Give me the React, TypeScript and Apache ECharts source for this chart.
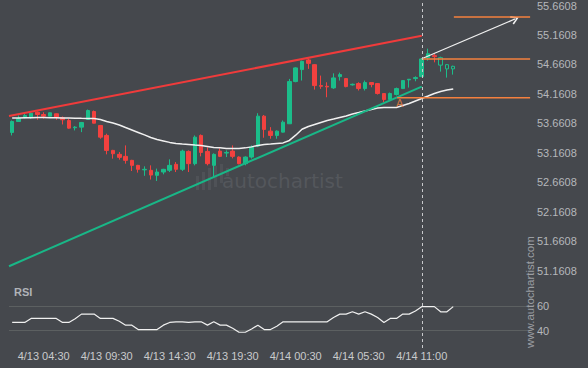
import React, { useEffect, useRef } from 'react';
import * as echarts from 'echarts';

const BG = '#45484d';
const UP = '#1bbd8a';
const DOWN = '#f2413f';
const ORANGE = '#f5803e';
const WHITE = '#f0f0f0';

// candles: [open, close, low, high]
const candles: number[][] = [
  [53.507, 53.693, 53.456, 53.710],
  [53.693, 53.744, 53.685, 53.795],
  [53.756, 53.795, 53.744, 53.820],
  [53.766, 53.833, 53.739, 53.850],
  [53.850, 53.811, 53.722, 53.862],
  [53.811, 53.783, 53.739, 53.850],
  [53.783, 53.840, 53.778, 53.845],
  [53.823, 53.766, 53.722, 53.828],
  [53.756, 53.722, 53.642, 53.778],
  [53.710, 53.580, 53.569, 53.739],
  [53.586, 53.597, 53.541, 53.614],
  [53.597, 53.676, 53.512, 53.685],
  [53.727, 53.879, 53.718, 53.896],
  [53.862, 53.664, 53.659, 53.879],
  [53.625, 53.427, 53.400, 53.634],
  [53.456, 53.202, 53.135, 53.485],
  [53.202, 53.146, 53.062, 53.211],
  [53.135, 53.084, 53.045, 53.174],
  [53.101, 53.033, 52.977, 53.287],
  [53.033, 52.948, 52.852, 53.042],
  [52.948, 52.881, 52.825, 52.957],
  [52.872, 52.881, 52.771, 52.932],
  [52.864, 52.784, 52.707, 52.948],
  [52.779, 52.835, 52.683, 52.893],
  [52.835, 52.881, 52.796, 52.889],
  [52.864, 52.948, 52.835, 53.050],
  [52.965, 52.881, 52.835, 53.004],
  [52.881, 53.190, 52.852, 53.214],
  [53.185, 52.977, 52.835, 53.202],
  [52.977, 53.427, 52.948, 53.456],
  [53.456, 53.168, 53.101, 53.473],
  [53.185, 52.977, 52.948, 53.253],
  [52.948, 53.135, 52.745, 53.152],
  [53.190, 53.101, 53.089, 53.236],
  [53.157, 53.168, 53.089, 53.202],
  [53.190, 53.101, 53.067, 53.287],
  [53.089, 52.977, 52.965, 53.101],
  [52.977, 53.089, 52.948, 53.101],
  [53.089, 53.258, 53.062, 53.287],
  [53.275, 53.783, 53.258, 53.833],
  [53.783, 53.558, 53.417, 53.803],
  [53.529, 53.456, 53.400, 53.597],
  [53.456, 53.529, 53.400, 53.541],
  [53.512, 53.681, 53.507, 53.710],
  [53.654, 54.370, 53.654, 54.415],
  [54.370, 54.602, 54.358, 54.612],
  [54.573, 54.713, 54.387, 54.725],
  [54.737, 54.679, 54.585, 54.759],
  [54.657, 54.302, 54.234, 54.666],
  [54.302, 54.290, 54.246, 54.471],
  [54.290, 54.280, 54.104, 54.358],
  [54.263, 54.432, 54.246, 54.510],
  [54.454, 54.488, 54.387, 54.522],
  [54.421, 54.285, 54.273, 54.429],
  [54.314, 54.324, 54.302, 54.336],
  [54.336, 54.251, 54.218, 54.358],
  [54.251, 54.353, 54.218, 54.387],
  [54.353, 54.319, 54.273, 54.361],
  [54.336, 54.167, 54.150, 54.344],
  [54.167, 54.065, 54.020, 54.175],
  [54.065, 54.167, 54.048, 54.184],
  [54.150, 54.251, 54.133, 54.268],
  [54.251, 54.387, 54.243, 54.395],
  [54.399, 54.409, 54.268, 54.412],
  [54.421, 54.437, 54.375, 54.459],
  [54.454, 54.754, 54.446, 54.759],
  [54.776, 54.843, 54.725, 54.928],
  [54.810, 54.793, 54.696, 54.843],
  [54.776, 54.649, 54.539, 54.793],
  [54.657, 54.585, 54.437, 54.666],
  [54.585, 54.629, 54.488, 54.640],
];
const hollowCandles = [68, 69, 70];

const movingAverage: number[] = [
  53.750, 53.752, 53.755, 53.758, 53.760, 53.760, 53.758, 53.755, 53.752, 53.750,
  53.748, 53.746, 53.745, 53.744, 53.727, 53.693, 53.668, 53.634, 53.591, 53.549,
  53.507, 53.465, 53.422, 53.388, 53.363, 53.338, 53.321, 53.312, 53.304, 53.295,
  53.287, 53.270, 53.253, 53.245, 53.236, 53.236, 53.236, 53.245, 53.262, 53.287,
  53.304, 53.312, 53.321, 53.329, 53.371, 53.460, 53.560, 53.608, 53.642, 53.676,
  53.710, 53.735, 53.761, 53.786, 53.820, 53.845, 53.871, 53.896, 53.921, 53.930,
  53.930, 53.930, 53.964, 53.998, 54.040, 54.082, 54.124, 54.167, 54.201, 54.226,
  54.243,
];

const rsiValues: number[] = [
  46.6, 46.6, 46.6, 49.9, 49.9, 49.9, 49.9, 49.9, 46.6, 46.6,
  49.6, 53.4, 53.4, 53.4, 49.9, 49.9, 49.9, 47.6, 44.4, 44.4,
  40.8, 40.8, 40.8, 40.8, 44.4, 46.6, 47.1, 47.1, 46.6, 47.1,
  47.1, 44.4, 47.1, 44.4, 44.4, 41.9, 38.6, 38.6, 41.2, 44.4,
  40.8, 40.8, 43.5, 47.1, 47.1, 47.1, 47.1, 47.1, 47.1, 47.1,
  47.1, 50.7, 53.4, 53.4, 55.3, 53.4, 55.3, 53.4, 50.6, 46.6,
  49.9, 49.9, 53.4, 53.4, 56.0, 59.5, 59.5, 59.5, 55.3, 55.3,
  59.5,
];

const SLOT_COUNT = 83;
const tickIndex = [5, 15, 25, 35, 45, 55, 65];
const tickLabels = ['4/13 04:30', '4/13 09:30', '4/13 14:30', '4/13 19:30', '4/14 00:30', '4/14 05:30', '4/14 11:00'];
const NOW_INDEX = 65;

const Y_MIN = 51.1608;
const Y_MAX = 55.6608;
const Y_STEP = 0.5;
const RSI_MIN = 30;
const RSI_MAX = 80;
const rsiLevels = [40, 60];

const resistance = [[-0.5, 53.784], [65, 55.148]];
const support = [[-0.5, 51.237], [65, 54.285]];
const targetArrow = [[65, 54.758], [79.8, 55.431]];
const levelTop = [[70.1, 55.4645], [82.2, 55.4645]];
const levelMid = [[65, 54.754], [82.2, 54.754]];
const levelLow = [[61.1, 54.094], [82.2, 54.094]];
const levelLowMarker = [[61.5, 54.094]];

const FONT = 'Liberation Sans, Arial, sans-serif';

export default function App() {
  const ref = useRef<HTMLDivElement>(null);
  useEffect(() => {
    if (!ref.current) return;
    const chart = echarts.init(ref.current, undefined, { renderer: 'svg' });
    const slots = Array.from({ length: SLOT_COUNT }, (_, i) => String(i));
    const candleData = candles.map((c, i) => {
      if (hollowCandles.includes(i)) {
        return {
          value: c,
          itemStyle: { color: BG, color0: BG, borderColor: UP, borderColor0: DOWN, borderWidth: 1 },
        };
      }
      return c;
    });

    const lineSeries = (data: number[][], color: string, width: number) => ({
      type: 'line',
      xAxisIndex: 2,
      yAxisIndex: 0,
      data,
      showSymbol: false,
      symbol: 'none',
      lineStyle: { color, width },
      z: 5,
      silent: true,
    });

    const bars = [
      [196, 176, 190], [202, 172, 190], [208, 168, 190], [214, 166, 187], [220, 164, 183], [226, 168, 176],
    ];

    const baseGraphic: any[] = [
      {
        type: 'text', left: 14, top: 286, z: 10,
        style: { text: 'RSI', fill: '#b0b3b8', font: `bold 11px ${FONT}` },
      },
      {
        type: 'text', x: 222, y: 171, z: -1,
        style: { text: 'autochartist', fill: '#54575c', font: `20px 'DejaVu Sans', sans-serif` },
      },
      ...bars.map((b) => ({
        type: 'rect', z: -1,
        shape: { x: b[0], y: b[1], width: 3, height: b[2] - b[1] },
        style: { fill: '#4f5257' },
      })),
      {
        type: 'text', x: 524, y: 348, rotation: Math.PI / 2, z: 10,
        style: { text: 'www.autochartist.com', fill: '#9a9da2', font: `11.5px ${FONT}` },
      },
    ];

    chart.setOption({
      animation: false,
      backgroundColor: BG,
      grid: [
        { left: 9, top: 4.7, width: 523, height: 266 },
        { left: 9, top: 281.5, width: 523, height: 61.3 },
      ],
      xAxis: [
        { type: 'category', gridIndex: 0, data: slots, show: false, boundaryGap: true },
        {
          type: 'category', gridIndex: 1, data: slots, boundaryGap: true,
          axisLine: { show: false }, axisTick: { show: false }, splitLine: { show: false },
          axisLabel: {
            interval: (index: number) => tickIndex.includes(index),
            formatter: (_v: string, index: number) => {
              const k = tickIndex.indexOf(index);
              return k >= 0 ? tickLabels[k] : '';
            },
            color: '#c9cacc', fontSize: 11, fontFamily: FONT, margin: 8,
          },
        },
        { type: 'value', gridIndex: 0, min: -0.5, max: SLOT_COUNT - 0.5, show: false },
      ],
      yAxis: [
        {
          type: 'value', gridIndex: 0, position: 'right', min: Y_MIN, max: Y_MAX, interval: Y_STEP,
          axisLine: { show: false }, axisTick: { show: false }, splitLine: { show: false },
          axisLabel: {
            formatter: (v: number) => {
              const k = Math.round((v - Y_MIN) / Y_STEP);
              return (Y_MIN + k * Y_STEP).toFixed(4);
            },
            color: '#b5b7bb', fontSize: 11, fontFamily: FONT, margin: 5,
          },
        },
        {
          type: 'value', gridIndex: 1, position: 'right', min: RSI_MIN, max: RSI_MAX, interval: 10,
          axisLine: { show: false }, axisTick: { show: false }, splitLine: { show: false },
          axisLabel: {
            formatter: (v: number) => (rsiLevels.includes(Math.round(v)) ? String(Math.round(v)) : ''),
            color: '#b5b7bb', fontSize: 11, fontFamily: FONT, margin: 5,
          },
        },
      ],
      series: [
        {
          type: 'candlestick',
          xAxisIndex: 0, yAxisIndex: 0,
          data: candleData,
          barWidth: 4,
          itemStyle: { color: UP, color0: DOWN, borderColor: UP, borderColor0: DOWN, borderWidth: 1 },
          z: 3,
        },
        {
          type: 'line', xAxisIndex: 0, yAxisIndex: 0, data: movingAverage,
          showSymbol: false, symbol: 'none', lineStyle: { color: WHITE, width: 1.5 }, z: 4, silent: true,
        },
        {
          type: 'line', xAxisIndex: 1, yAxisIndex: 1, data: rsiValues,
          showSymbol: false, symbol: 'none', lineStyle: { color: WHITE, width: 1.2 }, z: 4, silent: true,
          markLine: {
            silent: true, symbol: 'none', label: { show: false },
            lineStyle: { color: '#5c6061', width: 1, type: 'solid' },
            data: rsiLevels.map((v) => ({ yAxis: v })),
            z: 1,
          },
        },
        lineSeries(resistance, '#f03b3b', 2),
        lineSeries(support, '#19b787', 2),
        lineSeries(levelTop, ORANGE, 1.5),
        lineSeries(levelMid, ORANGE, 1.5),
        lineSeries(levelLow, ORANGE, 1.5),
        {
          type: 'line', xAxisIndex: 2, yAxisIndex: 0, data: targetArrow,
          showSymbol: false, symbol: 'none', lineStyle: { width: 0, opacity: 0 }, z: 6, silent: true,
          markLine: {
            silent: true,
            symbol: ['none', 'path://M5,0 L10,8.5 L8.6,9.6 L5,3.2 L1.4,9.6 L0,8.5 Z'],
            symbolSize: [9, 8],
            label: { show: false },
            lineStyle: { color: WHITE, width: 1.2, type: 'solid' },
            itemStyle: { color: WHITE },
            data: [[{ coord: targetArrow[0] }, { coord: targetArrow[1] }]],
          },
        },
        {
          type: 'scatter', xAxisIndex: 2, yAxisIndex: 0, data: levelLowMarker,
          symbolSize: 0, silent: true,
          label: { show: true, formatter: 'A', position: 'bottom', distance: 0, color: ORANGE, fontSize: 11, fontFamily: FONT },
          z: 6,
        },
      ],
      graphic: baseGraphic,
    });

    const px = chart.convertToPixel({ xAxisIndex: 0 }, NOW_INDEX) as number;
    const xLine = Math.round(px) + 0.5;
    chart.setOption({
      graphic: [
        ...baseGraphic,
        {
          type: 'line', z: 8,
          shape: { x1: xLine, y1: 3, x2: xLine, y2: 350 },
          style: { stroke: '#c8c9cc', lineWidth: 1, lineDash: [3, 3] },
        },
      ],
    });

    return () => chart.dispose();
  }, []);

  return (
    <div style={{ position: 'fixed', left: 0, top: 0, width: 588, height: 368, background: BG }}>
      <div ref={ref} style={{ width: 588, height: 368 }} />
    </div>
  );
}
